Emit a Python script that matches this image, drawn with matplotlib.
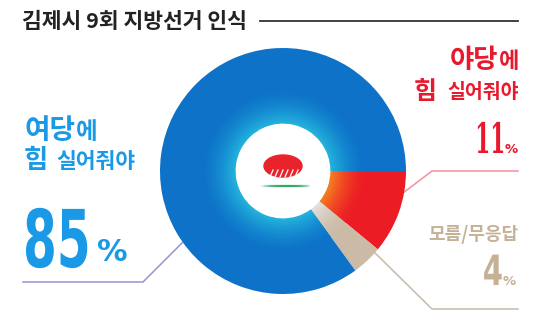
import matplotlib
matplotlib.use("Agg")
import matplotlib.pyplot as plt
from matplotlib.patches import Ellipse
from matplotlib.patheffects import AbstractPathEffect
from matplotlib.transforms import Affine2D
import numpy as np

# ---- data ----
title = "김제시 9회 지방선거 인식"
categories = ["야당에 힘 실어줘야", "모름/무응답", "여당에 힘 실어줘야"]
values = [11, 4, 85]
colors_outer = ["#ec1c24", "#cbbba6", "#0d72c8"]
colors_inner = ["#f47c20", "#e4dfda", "#22b0dc"]

W, H = 540, 324
def Y(y):
    return H - y


class Stretch(AbstractPathEffect):
    """Vertically stretch glyphs about their baseline (text stays a Text artist)."""
    def __init__(self, sy):
        super().__init__()
        self.sy = sy

    def draw_path(self, renderer, gc, tpath, affine, rgbFace=None):
        bx, by = affine.transform([[0.0, 0.0]])[0]
        t = affine + Affine2D().translate(-bx, -by).scale(1, self.sy).translate(bx, by)
        renderer.draw_path(gc, tpath, t, rgbFace)


fig = plt.figure(figsize=(5.4, 3.24), dpi=100)
ax = fig.add_axes([0, 0, 1, 1])

KR = "Noto Sans CJK KR"

cx, cy = 283, Y(171)
R = 123
hole = 48

# connector lines (under the donut)
ax.plot([23, 143, 183], [Y(282), Y(282), Y(242)], color="#9494d2", lw=1.1, zorder=1)
ax.plot([403, 432, 518], [Y(193), Y(171), Y(171)], color="#f2909c", lw=1.1, zorder=1)
ax.plot([372, 432, 518], [Y(250), Y(309), Y(309)], color="#c6baa8", lw=1.1, zorder=1)

# donut
ax.pie(values, colors=colors_outer, startangle=0, counterclock=False,
       center=(cx, cy), radius=R,
       wedgeprops=dict(width=R - hole, linewidth=0), frame=True)

# inner gradient band
band = 34
N = 24
co = np.array([matplotlib.colors.to_rgb(c) for c in colors_outer])
ci = np.array([matplotlib.colors.to_rgb(c) for c in colors_inner])
for i in range(N):
    r_out = hole + band * (N - i) / N
    t = ((i + 1) / N) ** 1.6
    cols = [tuple(co[k] * (1 - t) + ci[k] * t) for k in range(len(values))]
    ax.pie(values, colors=cols, startangle=0, counterclock=False,
           center=(cx, cy), radius=r_out,
           wedgeprops=dict(width=band / N + 0.6, linewidth=0), frame=True)

# logo
ax.add_patch(Ellipse((283, Y(166)), 38, 22, color="#e8242a", zorder=5))
for k in range(6):
    x0 = 270 + k * 5
    ax.plot([x0, x0 + 3], [Y(177), Y(170)], color="white", lw=0.9, zorder=6)
gx = np.linspace(261, 310, 30)
for i in range(len(gx) - 1):
    a = 1 - abs((gx[i] - 285.5) / 25) ** 3
    ax.plot(gx[i:i + 2], [Y(186), Y(186)], color="#33a864", lw=1.6,
            alpha=max(a, 0.15), solid_capstyle="butt", zorder=5)

# title
ax.text(22, Y(21), title, fontsize=15.5, family=[KR, "DejaVu Sans"], fontweight="bold",
        color="#222222", va="center", ha="left")
ax.plot([260, 518], [Y(21), Y(21)], color="#333333", lw=1.3)

# left label (blue)
blue = "#1a9ae6"
ax.text(24, Y(131), "여당", fontsize=20, family=KR, fontweight="heavy", color=blue, va="center")
ax.text(76, Y(132), "에", fontsize=17, family=KR, fontweight="bold", color=blue, va="center")
ax.text(24, Y(161), "힘", fontsize=19, family=KR, fontweight="heavy", color=blue, va="center")
ax.text(56, Y(162), "실어줘야", fontsize=15.5, family=KR, fontweight="bold", color=blue, va="center")
ax.text(23, Y(267), f"{values[2]}", fontsize=35, family="DejaVu Sans", fontweight="bold",
        color=blue, va="baseline", ha="left", path_effects=[Stretch(1.64)])
ax.text(97, Y(261), "%", fontsize=22, family="DejaVu Sans", fontweight="bold",
        color=blue, va="baseline", ha="left")

# right label (red)
red = "#e8192c"
ax.text(519, Y(62), "에", fontsize=16, family=KR, fontweight="bold", color=red, va="center", ha="right")
ax.text(498, Y(61), "야당", fontsize=19, family=KR, fontweight="heavy", color=red, va="center", ha="right")
ax.text(414, Y(92), "힘", fontsize=18, family=KR, fontweight="heavy", color=red, va="center")
ax.text(519, Y(93), "실어줘야", fontsize=14, family=KR, fontweight="bold", color=red, va="center", ha="right")
ax.text(505, Y(153), f"{values[0]}", fontsize=15.5, family="DejaVu Serif", fontweight="bold",
        color=red, va="baseline", ha="right", path_effects=[Stretch(1.95)])
ax.text(505, Y(153), "%", fontsize=9.5, family="DejaVu Sans", fontweight="bold",
        color=red, va="baseline", ha="left")

# right label (tan)
tan = "#c4b196"
ax.text(518, Y(235), "모름/무응답", fontsize=13, family=KR, fontweight="bold", color=tan,
        va="center", ha="right")
ax.text(503, Y(285), f"{values[1]}", fontsize=21, family="DejaVu Sans", fontweight="bold",
        color=tan, va="baseline", ha="right", path_effects=[Stretch(1.43)])
ax.text(503, Y(285), "%", fontsize=9.5, family="DejaVu Sans", fontweight="bold",
        color=tan, va="baseline", ha="left")

ax.set_xlim(0, W)
ax.set_ylim(0, H)
ax.set_aspect("equal")
ax.axis("off")
fig.savefig("out.png", dpi=100, facecolor="white")
